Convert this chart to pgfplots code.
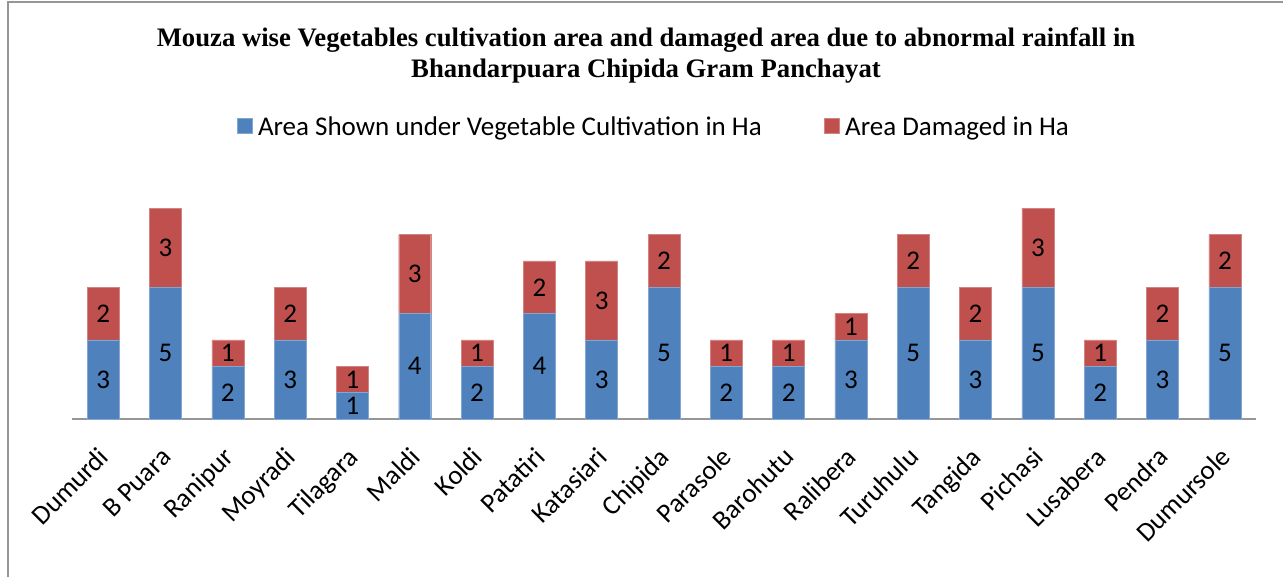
\documentclass[border=0pt]{standalone}
\usepackage{fontspec}
\setmainfont{Carlito}
\newfontfamily\titlefont{Liberation Serif}
\usepackage{pgfplots}
\pgfplotsset{compat=1.18}
\definecolor{cblue}{HTML}{4F81BD}
\definecolor{cred}{HTML}{C0504D}
\definecolor{frame}{HTML}{969696}
\begin{document}
\begin{tikzpicture}[x=1pt,y=1pt]
\path[use as bounding box] (0,0) rectangle (1283,-577);
\draw[frame, line width=2pt] (8,-577) -- (8,-2.5) -- (1283,-2.5);
\node[font=\titlefont\bfseries\fontsize{26.7}{31}\selectfont, inner sep=0pt, anchor=base] at (646,-47)
  {Mouza wise Vegetables cultivation area and damaged area due to abnormal rainfall in};
\node[font=\titlefont\bfseries\fontsize{26.7}{31}\selectfont, inner sep=0pt, anchor=base] at (646,-77.7)
  {Bhandarpuara Chipida Gram Panchayat};
\begin{axis}[
  at={(72pt,-419pt)}, anchor=south west, scale only axis,
  width=1184pt, height=237.15pt,
  ybar stacked, bar width=32pt,
  xmin=-0.5, xmax=18.5, ymin=0, ymax=9,
  axis x line*=bottom, axis y line=none,
  x axis line style={frame, line width=1.5pt},
  xtick=data, major tick length=0pt,
  xticklabels={Dumurdi, B Puara, Ranipur, Moyradi, Tilagara, Maldi, Koldi, Patatiri, Katasiari, Chipida, Parasole, Barohutu, Ralibera, Turuhulu, Tangida, Pichasi, Lusabera, Pendra, Dumursole},
  x tick label style={xshift=0.5pt, yshift=-33pt, rotate=45, anchor=east, inner sep=0pt,
     text height=19pt, text depth=0pt, font=\fontsize{27}{30}\selectfont},
  legend columns=2,
  legend style={at={(0.4905,1.231)}, anchor=center, draw=none, font=\fontsize{27}{30}\selectfont,
     nodes={inner sep=0pt},
     /tikz/every odd column/.append style={column sep=6pt},
     /tikz/every even column/.append style={column sep=62pt}, inner sep=0pt,
     legend cell align=left},
  legend image code/.code={\fill[#1] (0pt,-6pt) rectangle (15pt,9pt);},
]
\addplot[fill=cblue, draw=cblue!70!white, line width=0.4pt] coordinates {
(0,3) (1,5) (2,2) (3,3) (4,1) (5,4) (6,2) (7,4) (8,3) (9,5) (10,2) (11,2) (12,3) (13,5) (14,3) (15,5) (16,2) (17,3) (18,5)};
\addplot[fill=cred, draw=cred!70!white, line width=0.4pt] coordinates {
(0,2) (1,3) (2,1) (3,2) (4,1) (5,3) (6,1) (7,2) (8,3) (9,2) (10,1) (11,1) (12,1) (13,2) (14,2) (15,3) (16,1) (17,2) (18,2)};
\legend{Area Shown under Vegetable Cultivation in Ha, Area Damaged in Ha}
\end{axis}
\begin{axis}[
  at={(72pt,-419pt)}, anchor=south west, scale only axis,
  width=1184pt, height=237.15pt,
  xmin=-0.5, xmax=18.5, ymin=0, ymax=9,
  axis lines=none, xtick=\empty, ytick=\empty,
]
\addplot[draw=none, mark=none, nodes near coords, point meta=explicit symbolic,
  every node near coord/.append style={anchor=center, inner sep=0pt, font=\fontsize{27}{30}\selectfont}]
  coordinates {
(0,1.5)[3] (1,2.5)[5] (2,1)[2] (3,1.5)[3] (4,0.5)[1] (5,2)[4] (6,1)[2] (7,2)[4] (8,1.5)[3] (9,2.5)[5]
(10,1)[2] (11,1)[2] (12,1.5)[3] (13,2.5)[5] (14,1.5)[3] (15,2.5)[5] (16,1)[2] (17,1.5)[3] (18,2.5)[5]
(0,4)[2] (1,6.5)[3] (2,2.5)[1] (3,4)[2] (4,1.5)[1] (5,5.5)[3] (6,2.5)[1] (7,5)[2] (8,4.5)[3] (9,6)[2]
(10,2.5)[1] (11,2.5)[1] (12,3.5)[1] (13,6)[2] (14,4)[2] (15,6.5)[3] (16,2.5)[1] (17,4)[2] (18,6)[2]};
\end{axis}
\end{tikzpicture}
\end{document}
